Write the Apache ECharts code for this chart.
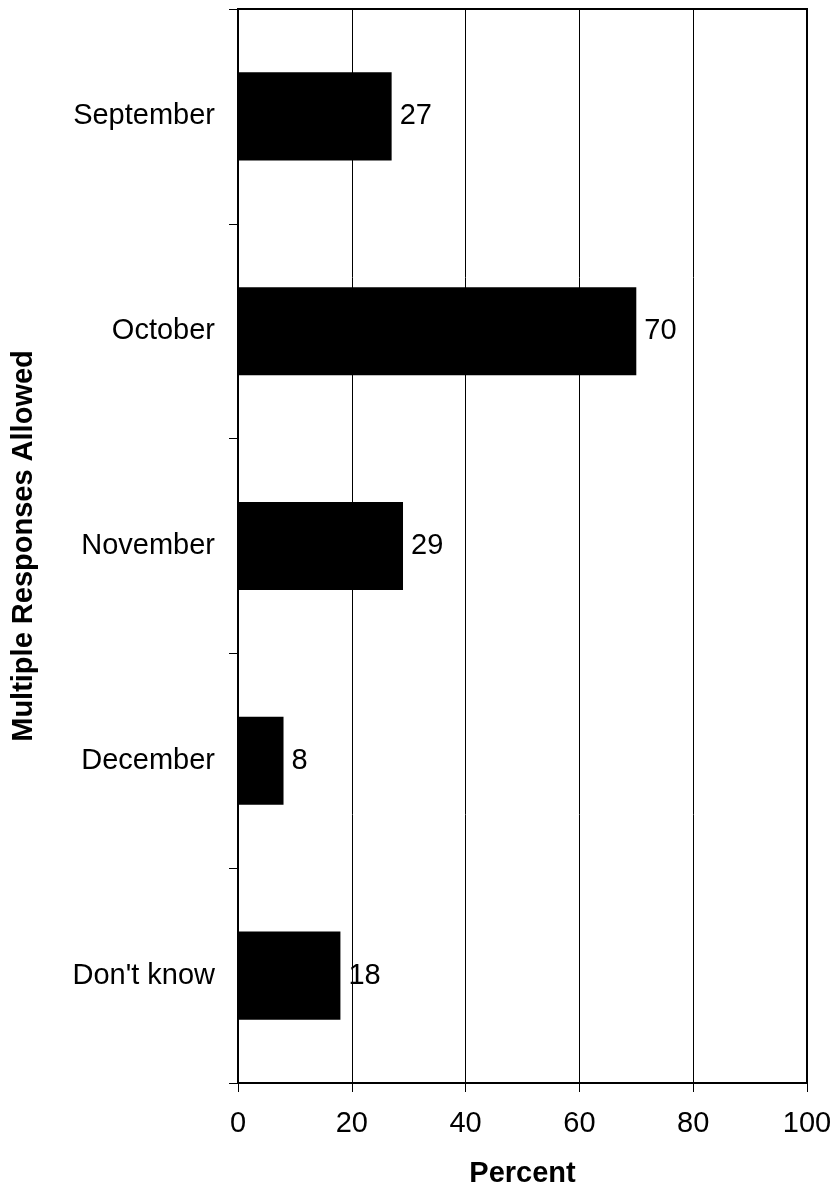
<!DOCTYPE html>
<html>
<head>
<meta charset="utf-8">
<style>
  html, body { margin: 0; padding: 0; background: #fff; }
  #chart { width: 835px; height: 1194px; }
</style>
<script src="https://cdn.jsdelivr.net/npm/echarts@6/dist/echarts.min.js"></script>
</head>
<body>
<div id="chart"></div>
<script>
var categories = ["September", "October", "November", "December", "Don't know"];
var values = [27, 70, 29, 8, 18];
var xTicks = [0, 20, 40, 60, 80, 100];

(function monthChart() {
  var chart = echarts.init(document.getElementById("chart"));
  var font = "Liberation Sans, Arial, sans-serif";

  chart.setOption({
    animation: false,
    backgroundColor: "#fff",
    grid: {
      left: 238, right: 28, top: 9, bottom: 111,
      show: true, borderColor: "#000", borderWidth: 2, backgroundColor: "transparent"
    },
    xAxis: {
      type: "value",
      min: xTicks[0],
      max: xTicks[xTicks.length - 1],
      interval: 20,
      name: "Percent",
      nameLocation: "middle",
      nameGap: 76,
      nameTextStyle: { fontFamily: font, fontSize: 29, fontWeight: "bold", color: "#000" },
      axisLine: { show: true, lineStyle: { color: "#000", width: 2 } },
      axisTick: { show: true, length: 9, lineStyle: { color: "#000", width: 1 } },
      axisLabel: { fontFamily: font, fontSize: 29, color: "#000", margin: 26 },
      splitLine: { show: true, lineStyle: { color: "#000", width: 1 } }
    },
    yAxis: {
      type: "category",
      data: categories,
      inverse: true,
      name: "Multiple Responses Allowed",
      nameLocation: "middle",
      nameGap: 200,
      nameRotate: 90,
      nameTextStyle: { fontFamily: font, fontSize: 29, fontWeight: "bold", color: "#000" },
      axisLine: { show: true, lineStyle: { color: "#000", width: 2 } },
      axisTick: { show: true, length: 9, interval: 0, lineStyle: { color: "#000", width: 1 } },
      axisLabel: { fontFamily: font, fontSize: 29, color: "#000", margin: 23 },
      splitLine: { show: false }
    },
    series: [{
      type: "bar",
      data: values,
      barWidth: "41%",
      itemStyle: { color: "#000" },
      label: {
        show: true,
        position: "right",
        distance: 8,
        fontFamily: font,
        fontSize: 29,
        color: "#000"
      }
    }]
  });
})();
</script>
</body>
</html>
